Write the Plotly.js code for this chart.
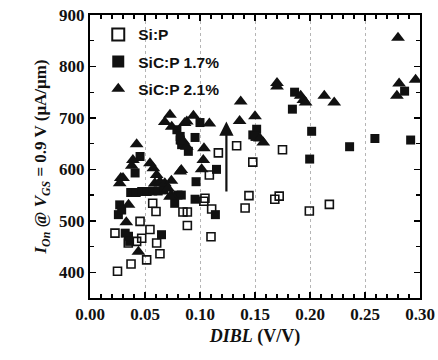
<!DOCTYPE html>
<html><head><meta charset="utf-8">
<script src="https://cdn.plot.ly/plotly-3.0.1.min.js"></script>
<style>html,body{margin:0;padding:0;background:#fff}#c{width:438px;height:360px}</style>
</head><body><div id="c"></div>
<script>
const siP_x = [0.025,0.0227,0.0373,0.0348,0.0424,0.047,0.0455,0.0515,0.0545,0.0606,0.0636,0.057,0.060,0.0845,0.0885,0.0885,0.1035,0.1045,0.1106,0.110,0.1085,0.1167,0.1333,0.141,0.1445,0.148,0.168,0.172,0.175,0.1994,0.2176];
const siP_y = [402,476,416,457,460,466,499,424,483,457,436,534,518,517,517,491,538,544,523,469,589,632,646,525,549,614,542,548,638,519,532];

const sic17_x = [0.0258,0.027,0.0288,0.032,0.035,0.036,0.041,0.0455,0.037,0.042,0.047,0.052,0.057,0.062,0.067,0.065,0.077,0.080,0.079,0.082,0.0833,0.082,0.0894,0.0955,0.100,0.0964,0.0955,0.083,0.114,0.115,0.148,0.1515,0.150,0.184,0.186,0.1997,0.2015,0.236,0.259,0.286,0.2915];
const sic17_y = [512,531,521,476,470,460,593,625,555,555,557,557,558,558,560,473,534,550,677,657,648,664,635,662,691,576,542,550,512,600,667,678,664,717,750,620,674,644,660,752,657];

const sic21_x = [0.027,0.028,0.030,0.033,0.035,0.038,0.039,0.0424,0.044,0.0545,0.0576,0.0606,0.059,0.0636,0.068,0.071,0.074,0.0727,0.074,0.068,0.0727,0.0743,0.082,0.083,0.085,0.088,0.086,0.088,0.094,0.1015,0.103,0.1036,0.1085,0.136,0.137,0.150,0.1545,0.1575,0.170,0.170,0.1915,0.194,0.196,0.213,0.222,0.279,0.281,0.296,0.280];
const sic21_y = [573,583,583,497,531,607,618,649,440,612,602,589,573,576,573,563,550,547,578,692,706,683,596,599,654,644,690,693,704,600,618,641,689,694,732,703,660,652,768,761,743,735,730,743,730,743,767,774,856];

const arrow_x = [0.124, 0.124];
const arrow_y = [554, 693];

const xTickVals = [0,0.05,0.10,0.15,0.20,0.25,0.30];
const xTickText = ['0.00','0.05','0.10','0.15','0.20','0.25','0.30'];
const yTickVals = [400,500,600,700,800,900];
const yTickText = ['400','500','600','700','800','900'];

const serif = 'Liberation Serif, Times New Roman, serif';
const sans = 'Liberation Sans, Arial, sans-serif';
const b = s => '<b>' + s + '</b>';

const traces = [
  {x: siP_x, y: siP_y, mode:'markers', type:'scatter', name:b('Si:P'), legendgroup:'a',
   marker:{symbol:'square-open', size:8, color:'#111', line:{width:1.6, color:'#111'}}},
  {x: sic17_x, y: sic17_y, mode:'markers', type:'scatter', name:b('SiC:P 1.7%'), legendgroup:'b',
   marker:{symbol:'square', size:9, color:'#111', line:{width:0}}},
  {x: sic21_x, y: sic21_y, mode:'markers', type:'scatter', name:b('SiC:P 2.1%'), legendgroup:'c',
   marker:{symbol:'triangle-up', size:12, color:'#111', line:{width:0}}}
];

const axisCommon = {
  showline:true, linecolor:'#000', linewidth:2, mirror:'ticks',
  ticks:'inside', ticklen:6, tickwidth:1.5, tickcolor:'#000',
  zeroline:false,
  tickfont:{family:serif, size:17, color:'#111'}
};

const layout = {
  width:438, height:360,
  margin:{l:90, r:18, t:15, b:62},
  paper_bgcolor:'#fff', plot_bgcolor:'#fff',
  showlegend:true,
  legend:{x:0.025, y:0.99, xanchor:'left', yanchor:'top', bgcolor:'rgba(0,0,0,0)',
    font:{family:sans, size:15.5, color:'#111'}, tracegroupgap:4, itemsizing:'constant'},
  xaxis:Object.assign({}, axisCommon, {
    range:[0,0.30], tickvals:xTickVals, ticktext:xTickText.map(b),
    showgrid:true, gridcolor:'#b5b5b5', griddash:'dot', gridwidth:1,
    minor:{dtick:0.01, ticks:'inside', ticklen:4, tickwidth:1.2, tickcolor:'#000', showgrid:false},
    title:{text:b('<i>DIBL</i> (V/V)'), font:{family:serif, size:18, color:'#111'}, standoff:6}
  }),
  yaxis:Object.assign({}, axisCommon, {
    range:[350,900], tickvals:yTickVals, ticktext:yTickText.map(b), showgrid:false,
    minor:{dtick:50, ticks:'inside', ticklen:4, tickwidth:1.2, tickcolor:'#000', showgrid:false},
    title:{text:b('<i>I</i><sub><i>On</i></sub> @ <i>V</i><sub><i>GS</i></sub> = 0.9 V (μA/μm)'), font:{family:serif, size:17, color:'#111'}, standoff:8}
  }),
  annotations:[{
    x:arrow_x[1], y:arrow_y[1], ax:arrow_x[0], ay:arrow_y[0],
    xref:'x', yref:'y', axref:'x', ayref:'y',
    showarrow:true, arrowhead:2, arrowsize:1.3, arrowwidth:2.2, arrowcolor:'#111', text:''
  }]
};

Plotly.newPlot('c', traces, layout, {displayModeBar:false, staticPlot:true});
</script>
</body></html>
